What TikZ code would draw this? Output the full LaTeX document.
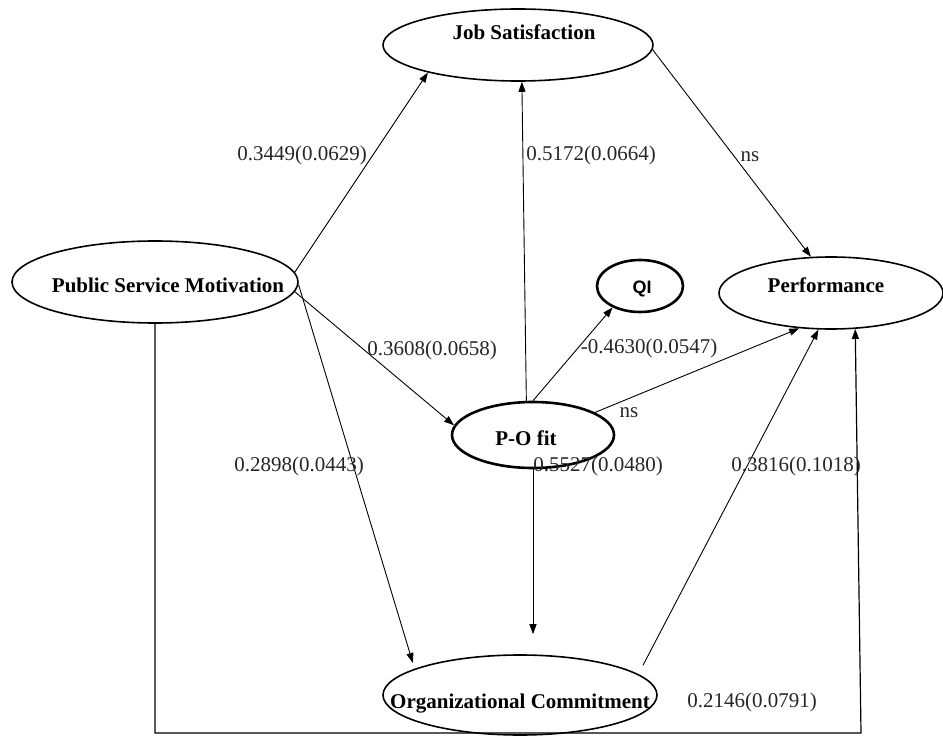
\documentclass[tikz,border=0pt]{standalone}
\usepackage{fontspec}
\setmainfont{Liberation Serif}
\newfontfamily\qifont{Liberation Sans}
\usetikzlibrary{shapes.geometric,arrows.meta}
\begin{document}
\begin{tikzpicture}[x=1pt,y=-1pt,
  ell/.style={draw, ellipse, line width=1.6pt, inner sep=0pt},
  ttl/.style={font=\fontsize{21}{25}\selectfont\bfseries, inner sep=0pt},
  lbl/.style={font=\fontsize{21}{25}\selectfont, inner sep=0pt, text=black!85},
  arr/.style={line width=0.9pt, -{Triangle[length=10pt,width=7pt]}},
]
\useasboundingbox (0,0) rectangle (943,738);
% ellipses
\node[ell, minimum width=270pt, minimum height=72pt] (js) at (518,45) {};
\node[ell, minimum width=286pt, minimum height=82pt] (psm) at (155,282) {};
\node[ell, line width=2.6pt, minimum width=86pt, minimum height=52pt] (qi) at (640,286) {};
\node[ell, minimum width=224pt, minimum height=72pt] (perf) at (831,293) {};
\node[ell, line width=2.6pt, minimum width=162pt, minimum height=66pt] (po) at (533,435) {};
\node[ell, minimum width=274pt, minimum height=80pt] (oc) at (520,695) {};
% titles
\node[ttl] (jst) at (524,32) {Job Satisfaction};
\node[ttl] (psmt) at (168,285) {Public Service Motivation};
\node[ttl] (perft) at (826,285) {Performance};
\node[ttl] (pot) at (526,438) {P-O fit};
\node[ttl] (oct) at (520,704) {Organizational Commitment};
\node[inner sep=0pt, font=\qifont\bfseries\fontsize{18}{21}\selectfont] (qit) at (642,289) {QI};
% connectors
\draw[arr] (psm.4) -- (js.197);
\draw[arr] (po.101) -- (js.276);
\draw[arr] (js.-2) -- (perf.119);
\draw[arr] (psm.-4) -- (po.173);
\draw[arr, shorten >=6pt] (psm.-1) -- (oc.166);
\draw[arr] (po.90) -- (qi.218);
\draw[arr] (po.20) -- (perf.228);
\draw[arr, shorten >=20pt] (po.south) -- (po.south |- oc.north);
\draw[arr, shorten <=10pt] (oc.10) -- (perf.251);
\coordinate (cb) at (861,733);
\draw[arr, line width=1.2pt] (psm.south) |- (cb) -- (perf.-56);
% labels
\node[lbl] (l1) at (302,155) {0.3449(0.0629)};
\node[lbl] (l2) at (591,155) {0.5172(0.0664)};
\node[lbl] (l3) at (750,157) {ns};
\node[lbl] (l4) at (432,350) {0.3608(0.0658)};
\node[lbl] (l5) at (649,348) {-0.4630(0.0547)};
\node[lbl] (l6) at (629,413) {ns};
\node[lbl] (l7) at (299,466) {0.2898(0.0443)};
\node[lbl] (l8) at (598,466) {0.5527(0.0480)};
\node[lbl] (l9) at (796,466) {0.3816(0.1018)};
\node[lbl] (l10) at (752,702) {0.2146(0.0791)};
\end{tikzpicture}
\end{document}
